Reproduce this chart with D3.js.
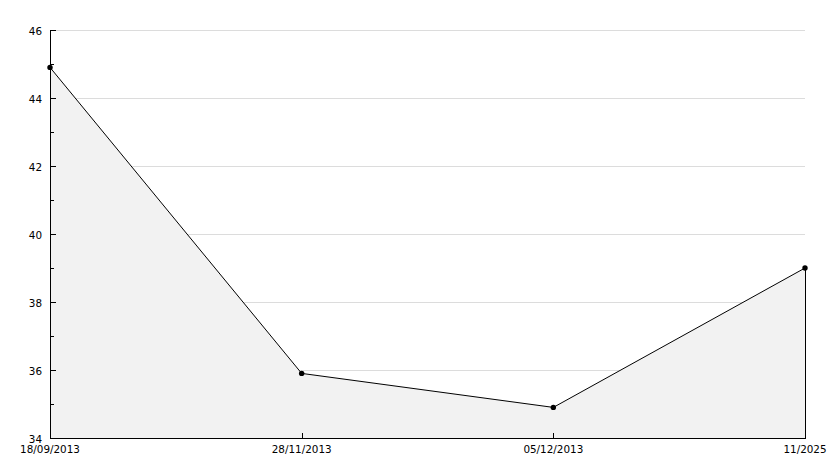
<!DOCTYPE html>
<html>
<head>
<meta charset="utf-8">
<script src="https://cdn.jsdelivr.net/npm/d3@7"></script>
<style>
  body { margin: 0; background: #fff; }
  text { font-family: "DejaVu Sans", sans-serif; font-size: 10.4px; fill: #000; }
</style>
</head>
<body>
<div id="chartArea"></div>
<script>
// data
var dates = ["18/09/2013", "28/11/2013", "05/12/2013", "11/2025"];
var values = [44.9, 35.9, 34.9, 39.0];
var yTicks = [34, 36, 38, 40, 42, 44, 46];
var yMinor = [35, 37, 39, 41, 43, 45];

var width = 834, height = 468;
// plot box (note: "top" is taken by window.top, so use other names)
var plotL = 50, plotR = 805, plotT = 30, plotB = 438;

var svg = d3.select("#chartArea").append("svg")
    .attr("width", width)
    .attr("height", height);

var x = d3.scalePoint().domain(dates).range([plotL, plotR]);
var y = d3.scaleLinear().domain([34, 46]).range([plotB, plotT]);

// gridlines
svg.append("g")
    .selectAll("line")
    .data(yTicks.filter(d => d > 34))
    .enter().append("line")
    .attr("x1", plotL).attr("x2", plotR)
    .attr("y1", d => Math.round(y(d)) + 0.5)
    .attr("y2", d => Math.round(y(d)) + 0.5)
    .attr("stroke", "#dcdcdc");

var pts = dates.map((d, i) => ({ d: d, v: values[i] }));

// filled area under the line (covers the grid)
var area = d3.area()
    .x(p => x(p.d))
    .y0(plotB)
    .y1(p => y(p.v));
svg.append("path")
    .datum(pts)
    .attr("d", area)
    .attr("fill", "#f2f2f2");

// right edge of the area
svg.append("line")
    .attr("x1", plotR + 0.5).attr("x2", plotR + 0.5)
    .attr("y1", y(values[values.length - 1]))
    .attr("y2", plotB)
    .attr("stroke", "#000");

var line = d3.line()
    .x(p => x(p.d))
    .y(p => y(p.v));
svg.append("path")
    .datum(pts)
    .attr("d", line)
    .attr("fill", "none")
    .attr("stroke", "#000")
    .attr("stroke-width", 1);

// markers
svg.append("g")
    .selectAll("circle")
    .data(pts)
    .enter().append("circle")
    .attr("cx", p => x(p.d))
    .attr("cy", p => y(p.v))
    .attr("r", 2.7)
    .attr("fill", "#000");

// y axis
var yAxis = svg.append("g");
yAxis.append("line")
    .attr("x1", plotL + 0.5).attr("x2", plotL + 0.5)
    .attr("y1", plotT).attr("y2", plotB + 1)
    .attr("stroke", "#000")
    .attr("shape-rendering", "crispEdges");
yAxis.selectAll("line.major")
    .data(yTicks)
    .enter().append("line")
    .attr("class", "major")
    .attr("x1", plotL).attr("x2", plotL + 6)
    .attr("y1", d => Math.round(y(d)) + 0.5)
    .attr("y2", d => Math.round(y(d)) + 0.5)
    .attr("stroke", "#000");
yAxis.selectAll("line.minor")
    .data(yMinor)
    .enter().append("line")
    .attr("class", "minor")
    .attr("x1", plotL).attr("x2", plotL + 4)
    .attr("y1", d => Math.round(y(d)) + 0.5)
    .attr("y2", d => Math.round(y(d)) + 0.5)
    .attr("stroke", "#000");
yAxis.selectAll("text")
    .data(yTicks)
    .enter().append("text")
    .attr("x", 42)
    .attr("y", d => y(d) + 4.5)
    .attr("text-anchor", "end")
    .text(d => d);

// x axis
var xAxis = svg.append("g");
xAxis.append("line")
    .attr("x1", plotL).attr("x2", plotR + 1)
    .attr("y1", plotB + 0.5).attr("y2", plotB + 0.5)
    .attr("stroke", "#000");
xAxis.selectAll("line.tick")
    .data(dates)
    .enter().append("line")
    .attr("class", "tick")
    .attr("x1", d => Math.round(x(d)) + 0.5)
    .attr("x2", d => Math.round(x(d)) + 0.5)
    .attr("y1", plotB).attr("y2", plotB - 5)
    .attr("stroke", "#000");
xAxis.selectAll("text")
    .data(dates)
    .enter().append("text")
    .attr("x", d => x(d))
    .attr("y", 453)
    .attr("text-anchor", "middle")
    .text(d => d);
</script>
</body>
</html>
